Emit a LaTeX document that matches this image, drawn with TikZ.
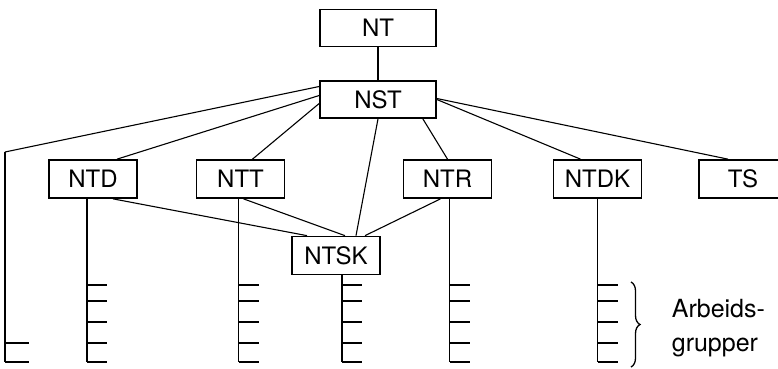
\documentclass[tikz,border=0pt]{standalone}
\usepackage{fontspec}
\setmainfont{TeX Gyre Heros}
\usetikzlibrary{decorations.pathreplacing}

\begin{document}
\begin{tikzpicture}[
  x=1pt,y=1pt,
  every node/.style={draw,line width=1.7pt,rectangle,minimum width=88pt,minimum height=38pt,
    inner sep=0pt,font=\fontsize{24}{28}\selectfont},
  wide/.style={minimum width=116pt,minimum height=37pt},
  link/.style={line width=1.1pt},
  tick/.style={line width=1.1pt}
]
\useasboundingbox (0,0) rectangle (778,368);
\clip (0,0) rectangle (778,368);
% top of the organisation
\node[wide] (nt) at (378,340) {NT};
\node[wide] (nst) at (378,268.5) {NST};
% committees
\node (ntd) at (93,189) {NTD};
\node (ntt) at (240.5,189) {NTT};
\node (ntr) at (447.5,189) {NTR};
\node (ntdk) at (597.5,189) {NTDK};
\node (ts) at (743,189) {TS};
\node (ntsk) at (336,112.5) {NTSK};
\coordinate (left) at (5,216);

\draw[link] (nt) -- (nst);
\draw[link] ([yshift=13pt]nst.west) -- (left);
\draw[link] ([yshift=4pt]nst.west) -- ([xshift=24pt]ntd.north);
\draw[link] ([yshift=-4pt]nst.west) -- ([xshift=12pt]ntt.north);
\draw[link] (nst.south) -- ([xshift=20pt]ntsk.north);
\draw[link] ([xshift=-14pt]nst.south east) -- (ntr.north);
\draw[link] (nst.east) -- ([xshift=-17pt]ntdk.north);
\draw[link] ([yshift=1pt]nst.east) -- ([xshift=-15pt]ts.north);

% links to NTSK
\draw[link] ([xshift=20pt]ntd.south) -- ([xshift=-29pt]ntsk.north);
\draw[link] ([xshift=3pt]ntt.south) -- ([xshift=9pt]ntsk.north);
\draw[link] ([xshift=-7pt]ntr.south) -- ([xshift=29pt]ntsk.north);

% working groups
\draw[link] (left) -- (5,6);
\foreach \y in {25,6}
  \draw[tick] (5,\y) -- (29,\y);
\foreach \n/\dx in {ntd/-6,ntt/-2,ntsk/6,ntr/2,ntdk/0}{
  \draw[link] ([xshift=\dx pt]\n.south) coordinate (top) -- (top |- 0,6);
  \foreach \y in {83,67,46,25,6}
    \draw[tick] (top |- 0,\y) -- ++(20,0);
}

\draw[line width=1.3pt,decorate,decoration={brace,amplitude=9pt}]
  (631,86) -- (631,1);
\node[draw=none,minimum width=0pt,minimum height=0pt,align=left,anchor=west,
  font=\fontsize{25}{34}\selectfont] (grp) at (671,40) {Arbeids-\\grupper};
\end{tikzpicture}
\end{document}
